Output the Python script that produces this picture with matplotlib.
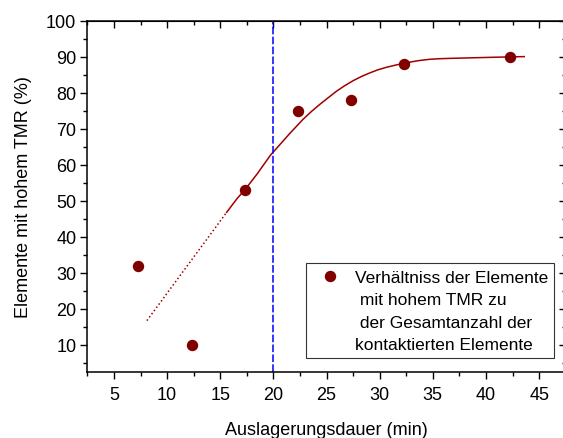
import numpy as np
import matplotlib
matplotlib.use("Agg")
import matplotlib.pyplot as plt
from matplotlib.ticker import MultipleLocator
from matplotlib.lines import Line2D

plt.rcParams['font.family'] = ['Liberation Sans', 'DejaVu Sans']

# measured ratio of elements with high TMR vs. annealing time
t_min = [7.3, 12.3, 17.3, 22.3, 27.3, 32.3, 42.3]
ratio_pct = [32, 10, 53, 75, 78, 88, 90]

# fit curve (solid part) and its extrapolation (dotted part)
fit_x = [15.6, 16.6, 17.3, 18.5, 19.7, 20.0, 21.5, 22.8, 23.6, 24.4, 25.9,
         26.7, 27.5, 28.3, 29.1, 29.8, 30.6, 31.3, 31.9, 32.3, 33.0, 33.7,
         34.7, 35.5, 36.5, 37.8, 40.5, 43.6]
fit_y = [46.8, 50.7, 53.0, 57.6, 62.6, 63.6, 68.6, 72.7, 74.9, 76.9, 80.4,
         82.0, 83.4, 84.6, 85.6, 86.4, 87.1, 87.6, 88.0, 88.25, 88.65, 89.0,
         89.35, 89.5, 89.6, 89.7, 89.9, 90.1]
extra_x = [8.1, 15.6]
extra_y = [16.7, 46.8]

t_mark = 20

legend_lines = ['Verhältniss der Elemente', ' mit hohem TMR zu',
                ' der Gesamtanzahl der', 'kontaktierten Elemente']

fig = plt.figure(figsize=(5.63, 4.39), dpi=100)
ax = fig.add_axes([0.1552, 0.151, 0.8496, 0.7989])

ax.plot(extra_x, extra_y, color='#a00000', lw=1.1, ls=(0, (1, 1.6)))
ax.plot(fit_x, fit_y, color='#a00000', lw=1.1)
ax.axvline(t_mark, color='#0000ff', lw=1.1, ls=(0, (5, 1.5)))
pts, = ax.plot(t_min, ratio_pct, 'o', color='#800000', ms=7.2, ls='none')

ax.set_xlim(2.5, 47.5)
ax.set_ylim(2.5, 100)
ax.xaxis.set_minor_locator(MultipleLocator(2.5))
ax.yaxis.set_minor_locator(MultipleLocator(5))
ax.set_xticks(np.arange(5, 50, 5))
ax.set_yticks(np.arange(10, 101, 10))

ax.tick_params(which='both', top=False, right=False, direction='out',
               labelsize=13, width=1)
ax.tick_params(which='major', length=5)
ax.tick_params(which='minor', length=3)
ax.tick_params(axis='x', which='major', pad=5)
ax.tick_params(axis='y', which='major', pad=3)

# mirrored inward ticks on top and right
ax2 = ax.secondary_xaxis('top')
ax2.xaxis.set_major_locator(MultipleLocator(5))
ax2.xaxis.set_minor_locator(MultipleLocator(2.5))
ax2.tick_params(which='both', direction='in', labeltop=False, width=1)
ax2.tick_params(which='major', length=5)
ax2.tick_params(which='minor', length=3)
ay2 = ax.secondary_yaxis('right')
ay2.yaxis.set_major_locator(MultipleLocator(10))
ay2.yaxis.set_minor_locator(MultipleLocator(5))
ay2.tick_params(which='both', direction='in', labelright=False, width=1)
ay2.tick_params(which='major', length=5)
ay2.tick_params(which='minor', length=3)

for sp in ax.spines.values():
    sp.set_linewidth(1.1)

ax.set_xlabel('Auslagerungsdauer (min)', fontsize=13, labelpad=13)
ax.set_ylabel('Elemente mit hohem TMR (%)', fontsize=13, labelpad=10)

# legend: marker on the first line only, label wrapped over four rows
blank = Line2D([], [], ls='none')
handles = [pts, blank, blank, blank]
leg = ax.legend(handles, legend_lines, loc='lower right',
                bbox_to_anchor=(0.976, 0.039), borderaxespad=0, fontsize=12.5,
                frameon=True, fancybox=False, handletextpad=0.41,
                handlelength=2.05, borderpad=0.35, labelspacing=0.42)
leg.get_frame().set_edgecolor('black')
leg.get_frame().set_linewidth(0.8)

fig.savefig('out.png', dpi=100, facecolor='w')
